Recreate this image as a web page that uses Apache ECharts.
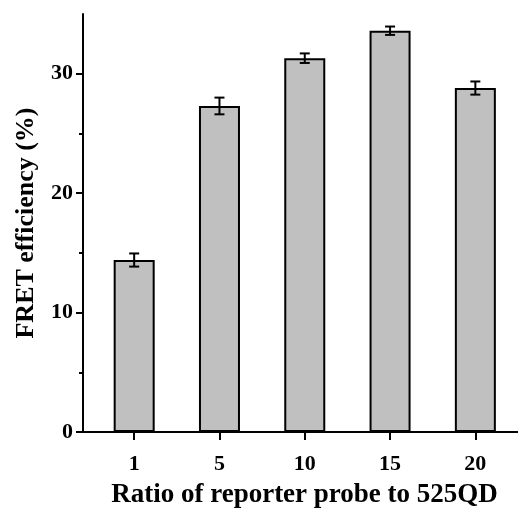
<!DOCTYPE html>
<html>
<head>
<meta charset="utf-8">
<script src="https://cdn.jsdelivr.net/npm/echarts@6/dist/echarts.min.js"></script>
<style>
  html, body { margin: 0; padding: 0; background: #fff; }
  #chart { width: 518px; height: 508px; }
</style>
</head>
<body>
<div id="chart"></div>
<script>
// Reporter probe : 525QD ratios and measured FRET efficiency (%)
var categories = ['1', '5', '10', '15', '20'];
var efficiency = [14.4, 27.3, 31.3, 33.6, 28.8];
var errors = [0.55, 0.7, 0.4, 0.35, 0.55];
var yMajorTicks = [0, 10, 20, 30];
var yMinorTicks = [5, 15, 25];

var positions = categories.map(function (c, i) { return i + 1; });
var barData = positions.map(function (p, i) { return [p, efficiency[i]]; });
var errData = positions.map(function (p, i) { return [p, efficiency[i] - errors[i], efficiency[i] + errors[i]]; });

var FONT = "'Liberation Serif', 'Times New Roman', serif";
var chart = echarts.init(document.getElementById('chart'));

chart.setOption({
  animation: false,
  grid: { left: 83, right: 0, top: 14, bottom: 76, containLabel: false, outerBoundsMode: 'none' },
  xAxis: {
    type: 'value',
    min: 0.4,
    max: 5.5,
    splitLine: { show: false },
    axisLine: { show: true, lineStyle: { color: '#000', width: 2 } },
    axisTick: { show: true, length: 8, customValues: positions, lineStyle: { color: '#000', width: 2 } },
    axisLabel: {
      customValues: positions,
      margin: 21,
      color: '#000',
      fontFamily: FONT,
      fontWeight: 'bold',
      fontSize: 22,
      formatter: function (v) { return categories[Math.round(v) - 1] || ''; }
    },
    name: 'Ratio of reporter probe to 525QD',
    nameLocation: 'middle',
    nameGap: 50,
    nameTextStyle: { color: '#000', fontFamily: FONT, fontWeight: 'bold', fontSize: 27, padding: [0, 0, 0, 8] }
  },
  yAxis: [{
    type: 'value',
    min: 0,
    max: 35,
    interval: 10,
    splitLine: { show: false },
    axisLine: { show: true, lineStyle: { color: '#000', width: 2 } },
    axisTick: { show: true, length: 7, customValues: yMajorTicks, lineStyle: { color: '#000', width: 2 } },
    axisLabel: {
      customValues: yMajorTicks,
      margin: 10,
      color: '#000',
      fontFamily: FONT,
      fontWeight: 'bold',
      fontSize: 22
    },
    name: 'FRET efficiency (%)',
    nameLocation: 'middle',
    nameGap: 44,
    nameTextStyle: { color: '#000', fontFamily: FONT, fontWeight: 'bold', fontSize: 26 }
  }, {
    type: 'value',
    position: 'left',
    min: 0,
    max: 35,
    splitLine: { show: false },
    axisLine: { show: false },
    axisLabel: { show: false },
    axisTick: { show: true, length: 4, customValues: yMinorTicks, lineStyle: { color: '#000', width: 2 } }
  }],
  series: [{
    type: 'bar',
    data: barData,
    barWidth: 41,
    itemStyle: { color: '#c0c0c0', borderColor: '#000', borderWidth: 2 }
  }, {
    type: 'custom',
    data: errData,
    z: 5,
    renderItem: function (params, api) {
      var x = api.value(0);
      var lo = api.coord([x, api.value(1)]);
      var hi = api.coord([x, api.value(2)]);
      var hw = 5;
      var style = { stroke: '#000', lineWidth: 2 };
      return {
        type: 'group',
        children: [
          { type: 'line', shape: { x1: lo[0], y1: lo[1], x2: hi[0], y2: hi[1] }, style: style },
          { type: 'line', shape: { x1: lo[0] - hw, y1: lo[1], x2: lo[0] + hw, y2: lo[1] }, style: style },
          { type: 'line', shape: { x1: hi[0] - hw, y1: hi[1], x2: hi[0] + hw, y2: hi[1] }, style: style }
        ]
      };
    }
  }]
});
</script>
</body>
</html>
